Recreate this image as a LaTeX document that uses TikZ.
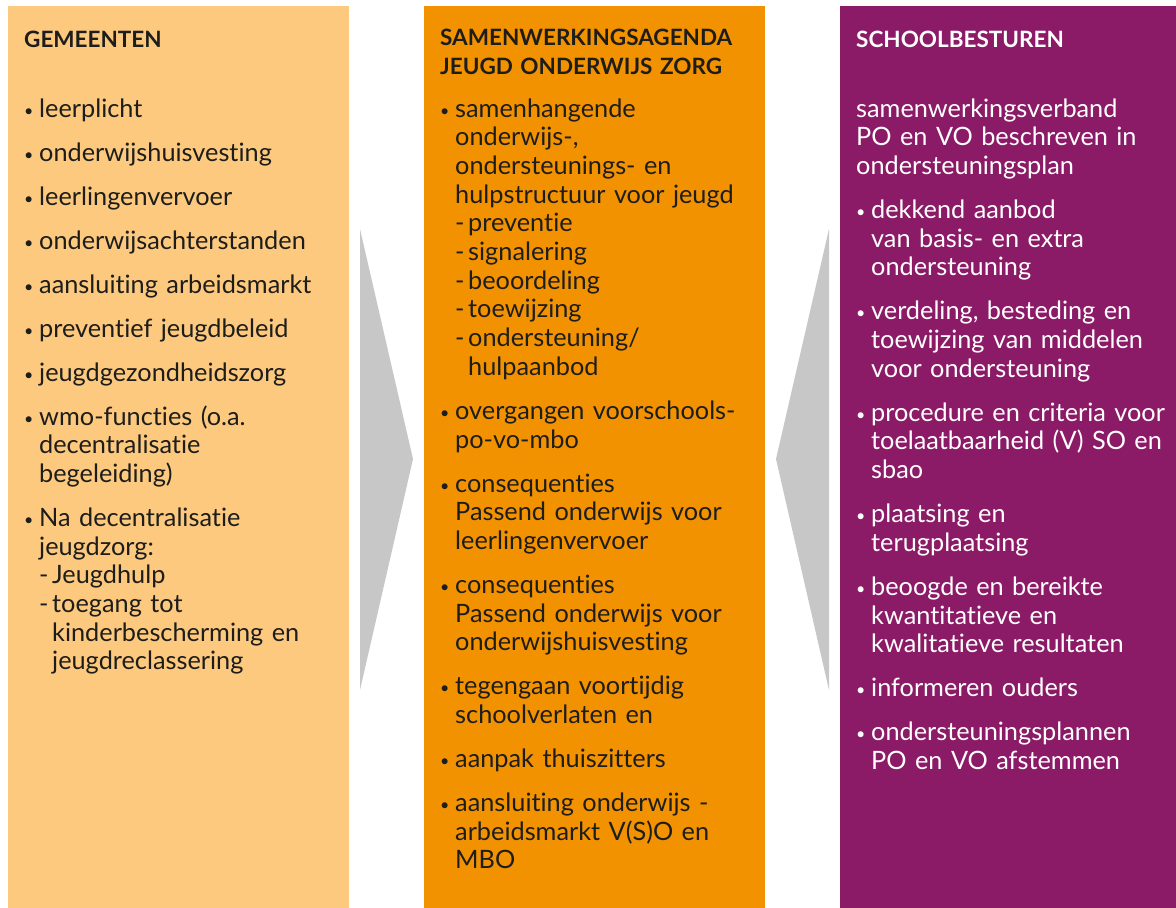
\documentclass[tikz,border=0pt]{standalone}
\usepackage{fontspec}
\setmainfont{Lato}[Ligatures=NoCommon]
\usetikzlibrary{positioning}
\definecolor{gemkleur}{HTML}{FCC97E}
\definecolor{agendakleur}{HTML}{F39200}
\definecolor{bestuurkleur}{HTML}{8C1B67}
\definecolor{pijlgrijs}{HTML}{C6C7C6}
\definecolor{tekst}{HTML}{1D1D1B}
\newcommand{\itm}[1]{\hangindent=15pt\hangafter=1\makebox[15pt][l]{\raisebox{1pt}{\fontsize{16}{16}\selectfont\textbullet}}#1\par}
\newcommand{\subitm}{\makebox[13pt][l]{-}}

\begin{document}
\begin{tikzpicture}[x=1pt, y=-1pt,
  kolom/.style={inner sep=0pt, anchor=north west},
  kop/.style={inner sep=0pt, anchor=base west, text width=330pt, align=left, font=\fontsize{22.5}{29}\selectfont\bfseries},
  lijst/.style={inner sep=0pt, anchor=base west, text width=330pt, align=left, font=\fontsize{25.3}{28.7}\selectfont, execute at begin node={\setlength{\parskip}{15.3pt}}}]
\useasboundingbox (0,0) rectangle (1176,908);

% Kolommen
\node[kolom, fill=gemkleur, minimum width=341pt, minimum height=902pt] (gem) at (8,6) {};
\node[kolom, fill=agendakleur, minimum width=341pt, minimum height=902pt] (agenda) at (424,6) {};
\node[kolom, fill=bestuurkleur, minimum width=336pt, minimum height=902pt] (bestuur) at (840,6) {};

% Pijlen
\fill[pijlgrijs] (360,229) -- (413,459) -- (360,690) -- cycle;
\fill[pijlgrijs] (829,229) -- (776,459) -- (829,690) -- cycle;

% Koppen
\node[kop, text=tekst] (gemkop) at (24,47) {GEMEENTEN};
\node[kop, text=tekst] (agendakop) at (440,45) {SAMENWERKINGSAGENDA\\JEUGD ONDERWIJS ZORG};
\node[kop, text=white] (bestuurkop) at (856,47) {SCHOOLBESTUREN};

% Gemeenten
\node[lijst, text=tekst] (gemlijst) at (24,117) {%
\itm{leerplicht}
\itm{onderwijshuisvesting}
\itm{leerlingenvervoer}
\itm{onderwijsachterstanden}
\itm{aansluiting arbeidsmarkt}
\itm{preventief jeugdbeleid}
\itm{jeugdgezondheidszorg}
\itm{wmo-functies (o.a.\newline decentralisatie\newline begeleiding)}
\itm{Na decentralisatie\newline jeugdzorg:\newline \subitm Jeugdhulp\newline \subitm toegang tot\newline \hspace*{13pt}kinderbescherming en\newline \hspace*{13pt}jeugdreclassering}};

% Samenwerkingsagenda
\node[lijst, text=tekst] (agendalijst) at (440,117) {%
\itm{samenhangende\newline onderwijs-,\newline ondersteunings- en\newline hulpstructuur voor jeugd\newline \subitm preventie\newline \subitm signalering\newline \subitm beoordeling\newline \subitm toewijzing\newline \subitm ondersteuning/\newline \hspace*{13pt}hulpaanbod}
\itm{overgangen voorschools-\newline po-vo-mbo}
\itm{consequenties\newline Passend onderwijs voor\newline leerlingenvervoer}
\itm{consequenties\newline Passend onderwijs voor\newline onderwijshuisvesting}
\itm{tegengaan voortijdig\newline schoolverlaten en}
\itm{aanpak thuiszitters}
\itm{aansluiting onderwijs -\newline arbeidsmarkt V(S)O en\newline MBO}};

% Schoolbesturen
\node[lijst, text=white] (bestuurlijst) at (856,117) {%
samenwerkingsverband\newline PO en VO beschreven in\newline ondersteuningsplan\par
\itm{dekkend aanbod\newline van basis- en extra\newline ondersteuning}
\itm{verdeling, besteding en\newline toewijzing van middelen\newline voor ondersteuning}
\itm{procedure en criteria voor\newline toelaatbaarheid (V) SO en\newline sbao}
\itm{plaatsing en\newline terugplaatsing}
\itm{beoogde en bereikte\newline kwantitatieve en\newline kwalitatieve resultaten}
\itm{informeren ouders}
\itm{ondersteuningsplannen\newline PO en VO afstemmen}};
\end{tikzpicture}
\end{document}
